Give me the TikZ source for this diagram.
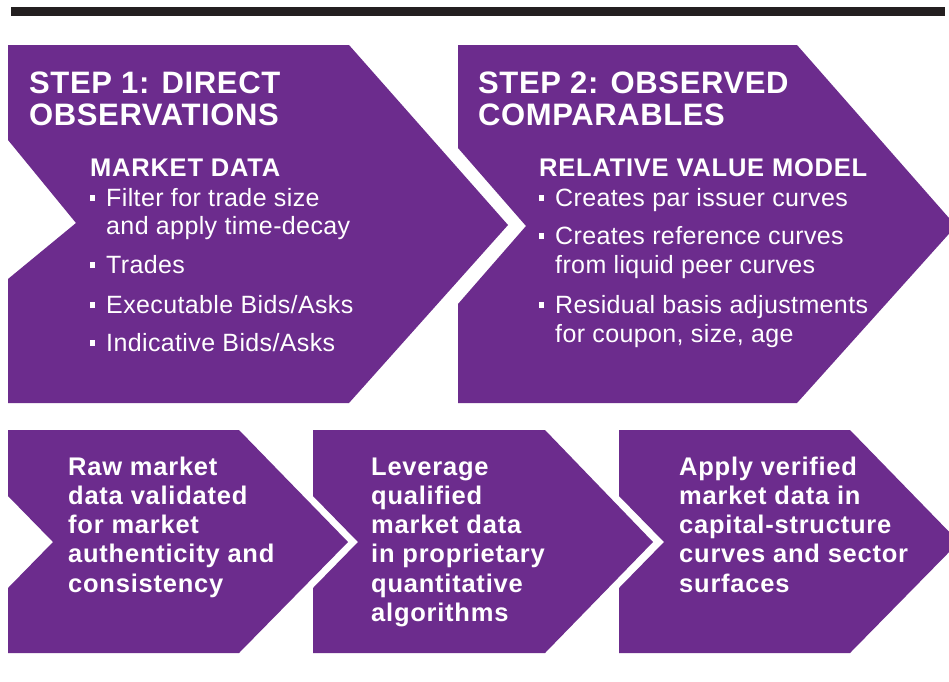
\documentclass[tikz,border=0pt]{standalone}
\usepackage{fontspec}
\setmainfont{Liberation Sans}
\definecolor{pur}{RGB}{108,44,141}
\definecolor{barblack}{RGB}{35,31,32}
\newcommand\sqbul{\makebox[16pt][l]{\rule[5pt]{5pt}{6pt}}}
\tikzset{
  panel/.style={fill=pur, draw=none},
  ttl/.style={anchor=base west, inner sep=0pt, text=white, font={\fontsize{31}{31}\selectfont\bfseries\addfontfeature{LetterSpace=2}}},
  subhd/.style={anchor=base west, inner sep=0pt, text=white, font={\fontsize{25.5}{25.5}\selectfont\bfseries\addfontfeature{LetterSpace=3}}},
  itm/.style={anchor=base west, inner sep=0pt, text=white, font={\fontsize{25}{25}\selectfont\addfontfeature{LetterSpace=1.5}}},
  low/.style={anchor=base west, inner sep=0pt, text=white, font={\fontsize{25.5}{25.5}\selectfont\bfseries\addfontfeature{LetterSpace=3}}},
}
\begin{document}
\begin{tikzpicture}[x=1pt,y=-1pt]
\useasboundingbox (0,0) rectangle (949,681);
\clip (0,0) rectangle (949,681);
\fill[white] (0,0) rectangle (949,681);
% top bar
\fill[barblack] (11,7) rectangle (945,16);
% step panels
\fill[panel] (8,45) -- (349,45) -- (508,225) -- (349,403) -- (8,403) -- (8,279) -- (76,223) -- (8,140) -- cycle;
\fill[panel] (458,45) -- (797,45) -- (956,226) -- (797,403) -- (458,403) -- (458,304) -- (526,226) -- (458,148) -- cycle;
% lower panels
\fill[panel] (8,430) -- (239,430) -- (348,542) -- (239,653) -- (8,653) -- (8,588) -- (53,542) -- (8,496) -- cycle;
\fill[panel] (313,430) -- (545,430) -- (653,542) -- (545,653) -- (313,653) -- (313,588) -- (358,542) -- (313,496) -- cycle;
\fill[panel] (619,430) -- (850,430) -- (959,542) -- (850,653) -- (619,653) -- (619,588) -- (664,542) -- (619,496) -- cycle;
% step 1 text
\node[ttl] (t1a) at (29,93) {STEP 1: DIRECT};
\node[ttl] (t1b) at (29,125) {OBSERVATIONS};
\node[subhd] (h1) at (90,176) {MARKET DATA};
\node[itm] (i1a) at (90,206) {\sqbul Filter for trade size};
\node[itm] (i1b) at (106,234) {and apply time-decay};
\node[itm] (i1c) at (90,273) {\sqbul Trades};
\node[itm] (i1d) at (90,313) {\sqbul Executable Bids/Asks};
\node[itm] (i1e) at (90,351) {\sqbul Indicative Bids/Asks};
% step 2 text
\node[ttl] (t2a) at (478,93) {STEP 2: OBSERVED};
\node[ttl] (t2b) at (478,125) {COMPARABLES};
\node[subhd] (h2) at (539,176) {RELATIVE VALUE MODEL};
\node[itm] (i2a) at (539,206) {\sqbul Creates par issuer curves};
\node[itm] (i2b) at (539,244) {\sqbul Creates reference curves};
\node[itm] (i2c) at (555,273) {from liquid peer curves};
\node[itm] (i2d) at (539,313) {\sqbul Residual basis adjustments};
\node[itm] (i2e) at (555,342) {for coupon, size, age};
% lower text A
\node[low] (a1) at (68,475) {Raw market};
\node[low] (a2) at (68,504.3) {data validated};
\node[low] (a3) at (68,533.6) {for market};
\node[low] (a4) at (68,562.9) {authenticity and};
\node[low] (a5) at (68,592.2) {consistency};
% lower text B
\node[low] (b1) at (371,475) {Leverage};
\node[low] (b2) at (371,504.3) {qualified};
\node[low] (b3) at (371,533.6) {market data};
\node[low] (b4) at (371,562.9) {in proprietary};
\node[low] (b5) at (371,592.2) {quantitative};
\node[low] (b6) at (371,621.5) {algorithms};
% lower text C
\node[low] (c1) at (679,475) {Apply verified};
\node[low] (c2) at (679,504.3) {market data in};
\node[low] (c3) at (679,533.6) {capital-structure};
\node[low] (c4) at (679,562.9) {curves and sector};
\node[low] (c5) at (679,592.2) {surfaces};
\end{tikzpicture}
\end{document}
